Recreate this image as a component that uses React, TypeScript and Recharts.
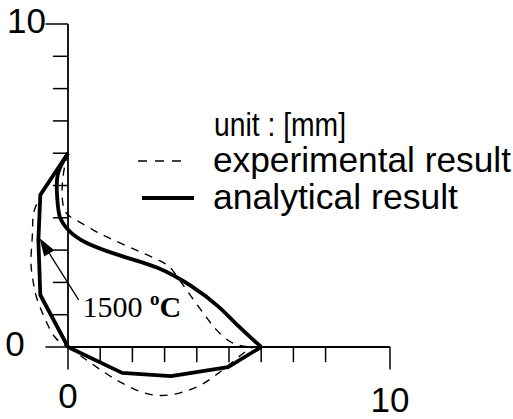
import React from 'react';
import { LineChart, Line, XAxis, YAxis, ReferenceLine, ReferenceDot, Legend } from 'recharts';

type P = { x: number; y: number };

// analytical result (solid)
const analyticalInner: P[] = [
  { x: 0, y: 6 }, { x: -0.32, y: 5.33 }, { x: -0.33, y: 4.55 }, { x: -0.25, y: 4.02 },
  { x: 0.01, y: 3.62 }, { x: 0.58, y: 3.22 }, { x: 1.75, y: 2.79 }, { x: 2.78, y: 2.45 },
  { x: 3.82, y: 1.89 }, { x: 4.68, y: 1.24 }, { x: 5.32, y: 0.62 }, { x: 6, y: 0 },
];
const analyticalOuter: P[] = [
  { x: 0, y: 6 }, { x: -0.86, y: 4.71 }, { x: -0.92, y: 3.3 }, { x: -0.86, y: 1.61 }, { x: 0, y: 0 },
];
const analyticalBottom: P[] = [
  { x: 0, y: 0 }, { x: 1.68, y: -0.8 }, { x: 3.2, y: -0.9 }, { x: 4.97, y: -0.62 }, { x: 6, y: 0 },
];

// experimental result (dashed)
const experimentalOuter: P[] = [
  { x: 0, y: 6 }, { x: -0.6, y: 5.1 }, { x: -1.04, y: 4.25 }, { x: -1.1, y: 3.6 },
  { x: -1.15, y: 2.7 }, { x: -1.09, y: 2.07 }, { x: -0.98, y: 1.55 }, { x: -0.74, y: 0.93 },
  { x: -0.41, y: 0.31 }, { x: 0, y: 0 },
];
const experimentalInner: P[] = [
  { x: 0, y: 6 }, { x: -0.16, y: 5.23 }, { x: -0.13, y: 4.3 }, { x: 0.25, y: 3.93 },
  { x: 0.79, y: 3.62 }, { x: 1.29, y: 3.37 }, { x: 1.89, y: 3.1 }, { x: 2.46, y: 2.85 },
  { x: 2.99, y: 2.6 }, { x: 3.31, y: 2.29 }, { x: 3.9, y: 1.46 }, { x: 4.29, y: 0.93 },
  { x: 4.61, y: 0.53 }, { x: 5.12, y: 0.12 }, { x: 5.75, y: 0 },
];
const experimentalBottom: P[] = [
  { x: 0, y: 0 }, { x: 0.99, y: -0.69 }, { x: 1.61, y: -1.08 }, { x: 2.24, y: -1.38 },
  { x: 2.86, y: -1.5 }, { x: 3.48, y: -1.42 }, { x: 4.1, y: -1.19 }, { x: 4.63, y: -0.84 },
  { x: 5.03, y: -0.53 }, { x: 5.5, y: -0.15 }, { x: 5.75, y: 0 },
];

const xTickValues = [0, 1, 2, 3, 4, 5, 6, 7, 8, 10];
const yTickValues = [0, 1, 2, 3, 4, 5, 6, 7, 8, 9, 10];
const xTickLabels = [{ value: 0, text: '0' }, { value: 10, text: '10' }];
const yTickLabels = [{ value: 0, text: '0' }, { value: 10, text: '10' }];
const legendLabels = ['unit : [mm]', 'experimental result', 'analytical result'];
const annotation = { number: '1500', degree: 'o', unit: 'C' };
const arrowTail: P = { x: 0.33, y: 1.46 };
const arrowTip: P = { x: -0.88, y: 3.37 };

// layout (not data)
const X_DOMAIN: [number, number] = [-2.112, 13.82];
const Y_DOMAIN: [number, number] = [-2.229, 10.743];
const SANS = '"Liberation Sans", Arial, sans-serif';
const SERIF = '"Liberation Serif", "Times New Roman", serif';
const xLabelOffset = [-1.5, -1.64];
const yLabelOffset = [-1.65, -1.29];
const annotationPos: P = { x: 0.45, y: 0.93 };

const tickLen = (v: number, long: number[]) => (long.includes(v) ? 0.7 : 0.47);

const ArrowShape = (p: any) => {
  const { x1, y1, x2, y2 } = p;
  const ang = Math.atan2(y2 - y1, x2 - x1);
  const L = 18, W = 6;
  const bx = x2 - L * Math.cos(ang), by = y2 - L * Math.sin(ang);
  const nx = -Math.sin(ang), ny = Math.cos(ang);
  return (
    <g>
      <line x1={x1} y1={y1} x2={bx} y2={by} stroke="#000" strokeWidth={1.3} />
      <polygon points={`${x2},${y2} ${bx + nx * W},${by + ny * W} ${bx - nx * W},${by - ny * W}`} fill="#000" />
    </g>
  );
};

const renderLegend = () => (
  <svg width={513} height={419} style={{ position: 'absolute', left: 0, top: 0 }}>
    <line x1={138} x2={184} y1={161} y2={161} stroke="#000" strokeWidth={1.5} strokeDasharray="9 8" />
    <line x1={142} x2={194} y1={198} y2={198} stroke="#000" strokeWidth={4} />
    <text x={214} y={136} fontSize={33} fontFamily={SANS} fill="#000" textLength={132} lengthAdjust="spacingAndGlyphs">{legendLabels[0]}</text>
    <text x={213} y={172} fontSize={35} fontFamily={SANS} fill="#000" textLength={298} lengthAdjust="spacingAndGlyphs">{legendLabels[1]}</text>
    <text x={213} y={209} fontSize={35} fontFamily={SANS} fill="#000" textLength={245} lengthAdjust="spacingAndGlyphs">{legendLabels[2]}</text>
  </svg>
);

const common = { dataKey: 'y', stroke: '#000', dot: false as const, activeDot: false as const, isAnimationActive: false };

export default function App() {
  return (
    <div style={{ position: 'absolute', left: 0, top: 0, background: '#fff' }}>
      <LineChart width={513} height={419} margin={{ top: 0, right: 0, bottom: 0, left: 0 }}>
        <XAxis type="number" dataKey="x" domain={X_DOMAIN} allowDataOverflow hide />
        <YAxis type="number" dataKey="y" domain={Y_DOMAIN} allowDataOverflow hide />
        <Legend
          layout="horizontal"
          verticalAlign="middle"
          align="center"
          content={renderLegend}
          wrapperStyle={{ left: 0, top: 0, width: 513, height: 419, pointerEvents: 'none' }}
        />

        {/* axes */}
        <ReferenceLine segment={[{ x: 0, y: 0 }, { x: 10, y: 0 }]} stroke="#000" strokeWidth={1.8} />
        <ReferenceLine segment={[{ x: 0, y: 0 }, { x: 0, y: 10 }]} stroke="#000" strokeWidth={1.8} />
        {xTickValues.map((t) => (
          <ReferenceLine key={'xt' + t} segment={[{ x: t, y: 0 }, { x: t, y: -tickLen(t, [0, 10]) }]} stroke="#000" strokeWidth={1.5} />
        ))}
        {yTickValues.map((t) => (
          <ReferenceLine key={'yt' + t} segment={[{ x: 0, y: t }, { x: -tickLen(t, [0, 10]), y: t }]} stroke="#000" strokeWidth={1.5} />
        ))}
        {xTickLabels.map((l, i) => (
          <ReferenceDot key={'xl' + l.value} x={l.value} y={xLabelOffset[i]} r={1} shape={(p: any) => (
            <text x={p.cx} y={p.cy} textAnchor="middle" dominantBaseline="central" fontSize={35} fontFamily={SANS} fill="#000">{l.text}</text>
          )} />
        ))}
        {yTickLabels.map((l, i) => (
          <ReferenceDot key={'yl' + l.value} x={yLabelOffset[i]} y={l.value + 0.1} r={1} shape={(p: any) => (
            <text x={p.cx} y={p.cy} textAnchor="middle" dominantBaseline="central" fontSize={35} fontFamily={SANS} fill="#000">{l.text}</text>
          )} />
        ))}

        {/* experimental */}
        <Line {...common} data={experimentalOuter} type="natural" strokeWidth={1.4} strokeDasharray="8 7" legendType="none" />
        <Line {...common} data={experimentalInner} type="natural" strokeWidth={1.4} strokeDasharray="8 7" name={legendLabels[1]} />
        <Line {...common} data={experimentalBottom} type="natural" strokeWidth={1.4} strokeDasharray="8 7" legendType="none" />

        {/* analytical */}
        <Line {...common} data={analyticalOuter} type="linear" strokeWidth={3.8} strokeLinejoin="round" legendType="none" />
        <Line {...common} data={analyticalInner} type="natural" strokeWidth={3.8} name={legendLabels[2]} />
        <Line {...common} data={analyticalBottom} type="linear" strokeWidth={3.8} strokeLinejoin="round" legendType="none" />

        {/* annotation */}
        <ReferenceLine segment={[arrowTail, arrowTip]} shape={ArrowShape} />
        <ReferenceDot x={annotationPos.x} y={annotationPos.y} r={1} shape={(p: any) => (
          <text x={p.cx} y={p.cy} fontSize={30} fontFamily={SERIF} fill="#000">
            {annotation.number}{' '}
            <tspan fontSize={19} fontWeight="bold" dy={-12}>{annotation.degree}</tspan>
            <tspan fontWeight="bold" dy={12}>{annotation.unit}</tspan>
          </text>
        )} />
      </LineChart>
    </div>
  );
}
